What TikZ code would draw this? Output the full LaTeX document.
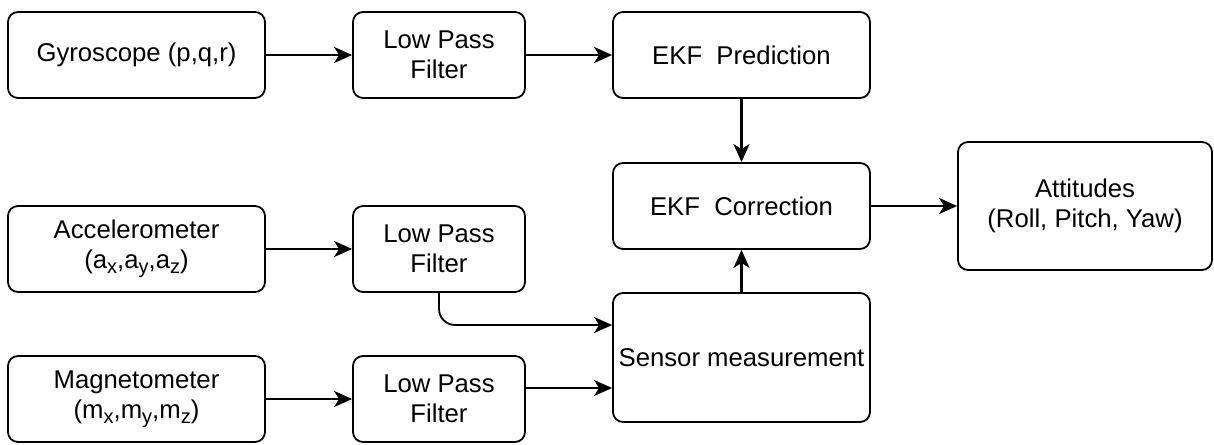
\documentclass[tikz,border=0pt]{standalone}
\usepackage{fontspec}
\setmainfont{Liberation Sans}
\usetikzlibrary{arrows.meta,calc}
\newcommand{\sbs}[1]{\raisebox{-0.4ex}{\fontsize{10}{10}\selectfont #1}}
\tikzset{
  blk/.style={draw=black, line width=0.9pt, rounded corners=5pt, fill=white,
    align=center, inner sep=0pt, font=\fontsize{12.85}{15}\selectfont},
  flow/.style={line width=1.4pt, -{Stealth[length=9pt,width=8pt,inset=2.5pt]}},
  flowthin/.style={line width=0.9pt, -{Stealth[length=9pt,width=8pt,inset=2.5pt]}},
}
\begin{document}
\begin{tikzpicture}[x=0.5pt,y=-0.5pt]
  \useasboundingbox (0,0) rectangle (1214,444);
  % top row
  \node[blk, minimum width=128.5pt, minimum height=43pt] (gyro) at (136.5,55) {Gyroscope (p,q,r)};
  \node[blk, minimum width=86pt, minimum height=43pt] (lpfa) at (439,55) {Low Pass\\Filter};
  \node[blk, minimum width=128.5pt, minimum height=43pt] (pred) at (741.5,55) {EKF\ \ Prediction};
  % middle row
  \node[blk, minimum width=128.5pt, minimum height=43pt] (acc) at (136.5,249) {Accelerometer\\(a\sbs{x},a\sbs{y},a\sbs{z})};
  \node[blk, minimum width=86pt, minimum height=43pt] (lpfb) at (439,249) {Low Pass\\Filter};
  \node[blk, minimum width=128.5pt, minimum height=43pt] (corr) at (741.5,206) {EKF\ \ Correction};
  \node[blk, minimum width=127pt, minimum height=64pt] (att) at (1085,206) {Attitudes\\(Roll, Pitch, Yaw)};
  % bottom row
  \node[blk, minimum width=128.5pt, minimum height=43pt] (mag) at (136.5,399) {Magnetometer\\(m\sbs{x},m\sbs{y},m\sbs{z})};
  \node[blk, minimum width=86pt, minimum height=43pt] (lpfc) at (439,399) {Low Pass\\Filter};
  \node[blk, minimum width=128.5pt, minimum height=64.5pt] (sens) at (741.5,357.5) {Sensor measurement};
  % connectors
  \draw[flow] (gyro) -- (lpfa);
  \draw[flow] (lpfa) -- (pred);
  \draw[flow] (acc) -- (lpfb);
  \draw[flow] (mag) -- (lpfc);
  \draw[flow] (pred) -- (corr);
  \draw[flow] (sens) -- (corr);
  \draw[flow] (corr) -- (att);
  \draw[flowthin, rounded corners=8pt] (lpfb.south) |- ($(sens.west)+(0,-32.5)$);
  \draw[flowthin] ($(lpfc.east)+(0,-11)$) -- ($(sens.west)+(0,30.5)$);
\end{tikzpicture}
\end{document}
